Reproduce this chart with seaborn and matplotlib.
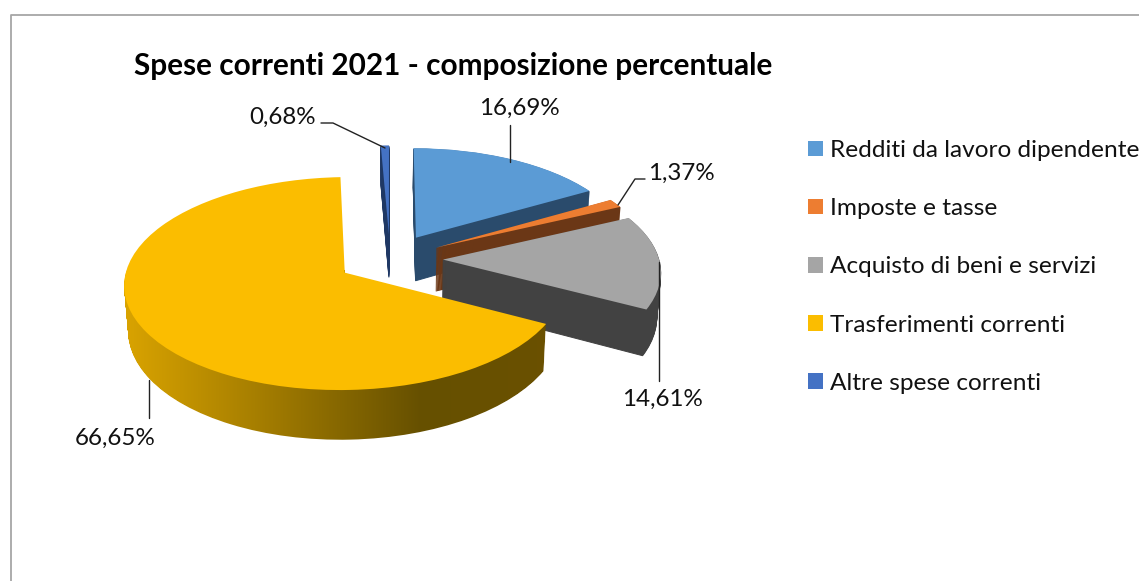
import numpy as np
import matplotlib
matplotlib.use("Agg")
import matplotlib.pyplot as plt
from matplotlib.colors import LinearSegmentedColormap
from matplotlib.path import Path
from matplotlib.transforms import Transform
import seaborn as sns

sns.set_theme(style="white")
plt.rcParams["font.family"] = ["Lato", "DejaVu Sans"]

title = "Spese correnti 2021 - composizione percentuale"
categories = ["Redditi da lavoro dipendente", "Imposte e tasse", "Acquisto di beni e servizi",
              "Trasferimenti correnti", "Altre spese correnti"]
values = [16.69, 1.37, 14.61, 66.65, 0.68]

top_colors = ["#5B9BD5", "#ED7D31", "#A5A5A5", "#FBBD00", "#4472C4"]
side_colors = ["#2A4B6C", "#6B3716", "#424242", "#8A6800", "#1F3864"]

W, H = 1139, 581
CX, CY = 390, 259
RX, RY = 216, 102.6
PERSP = 0.101
DEPTH = 44
EXPLODE = 0.245
N_LAYERS = 45


class TiltTransform(Transform):
    # fake the excel 3d look: unit pie -> pixels with a bit of perspective
    input_dims = 2
    output_dims = 2

    def __init__(self, t=0.0):
        super().__init__()
        self.t = t

    def transform_non_affine(self, xy):
        xy = np.asarray(xy)
        u, v = xy[:, 0], xy[:, 1]
        w = 1 + PERSP * v
        s = 1 - 0.015 * self.t
        return np.column_stack([CX + RX * u / w * s, CY - RY * v / w + DEPTH * self.t / w])


def draw_pie(colors, t, base=0.0, edge=0.0):
    wedges, _ = ax.pie(values, colors=colors, startangle=90, counterclock=False,
                       explode=[EXPLODE] * len(values), radius=1)
    tilt = TiltTransform(t)
    # altre is at the back, yellow in front
    order = [1, 2, 3, 4, 0]
    for w, o in zip(wedges, order):
        w.set_transform(tilt + ax.transData)
        w.set_zorder(o * 10 + base + (1 - t))
        w.set_edgecolor(w.get_facecolor())
        w.set_linewidth(edge)
    return wedges, tilt


fig = plt.figure(figsize=(W / 100, H / 100), dpi=100)
ax = fig.add_axes([0, 0, 1, 1])

yellow_paths = []
for t in np.linspace(1, 0.02, N_LAYERS):
    side, tilt = draw_pie(side_colors, t, edge=0.7)
    yellow_paths.append(tilt.transform_path(side[3].get_path()))
    # yellow wall comes from the gradient image below
    side[3].set_visible(False)
top, _ = draw_pie(top_colors, 0, base=2)

ax.set(xlim=(0, W), ylim=(H, 0), aspect="auto")

# gradient on the yellow side wall
wall_cmap = LinearSegmentedColormap.from_list("wall", [(0, "#DDA600"), (0.68, "#665000"), (1, "#6B5100")])
img = ax.imshow(np.linspace(0, 1, 256).reshape(1, -1), cmap=wall_cmap, aspect="auto",
                extent=(115, 567, 450, 270), interpolation="bilinear", zorder=41.9)
img.set_clip_path(Path.make_compound_path(*yellow_paths), ax.transData)
ax.set(xlim=(0, W), ylim=(H, 0), aspect="auto")

# chart frame, runs off the screenshot on the right and bottom
ax.plot([10.5, 10.5, W], [H, 14.5, 14.5], color="#A6A6A6", lw=1.3, zorder=1)

ax.text(453.5, 66, title, fontsize=21.4, fontweight="bold", color="black", ha="center", va="center", zorder=100)

label_pos = [(519, 108.5), (681, 173.5), (662, 399.5), (115, 438.5), (283, 117.5)]
leaders = [
    ([510, 510], [125, 162]),
    ([618, 635, 645], [205, 179, 179]),
    ([659, 659], [262, 381]),
    ([149, 149], [380, 418]),
    ([321, 333, 385], [123, 123, 148]),
]
for v, pos, (lx, ly) in zip(values, label_pos, leaders):
    ax.plot(lx, ly, color="#222222", lw=1, zorder=90)
    ax.text(pos[0], pos[1], f"{v:.2f}%".replace(".", ","), fontsize=17.4, color="#111111",
            ha="center", va="center", zorder=100)

ax.legend(top, categories, loc="upper left", bbox_to_anchor=(808 / W, 1 - 140 / H), frameon=False,
          fontsize=17.55, labelspacing=1.525, handlelength=0.62, handleheight=0.62,
          handletextpad=0.3, borderpad=0, borderaxespad=0, labelcolor="#111111")

fig.savefig("out.png", dpi=100, facecolor="white")
